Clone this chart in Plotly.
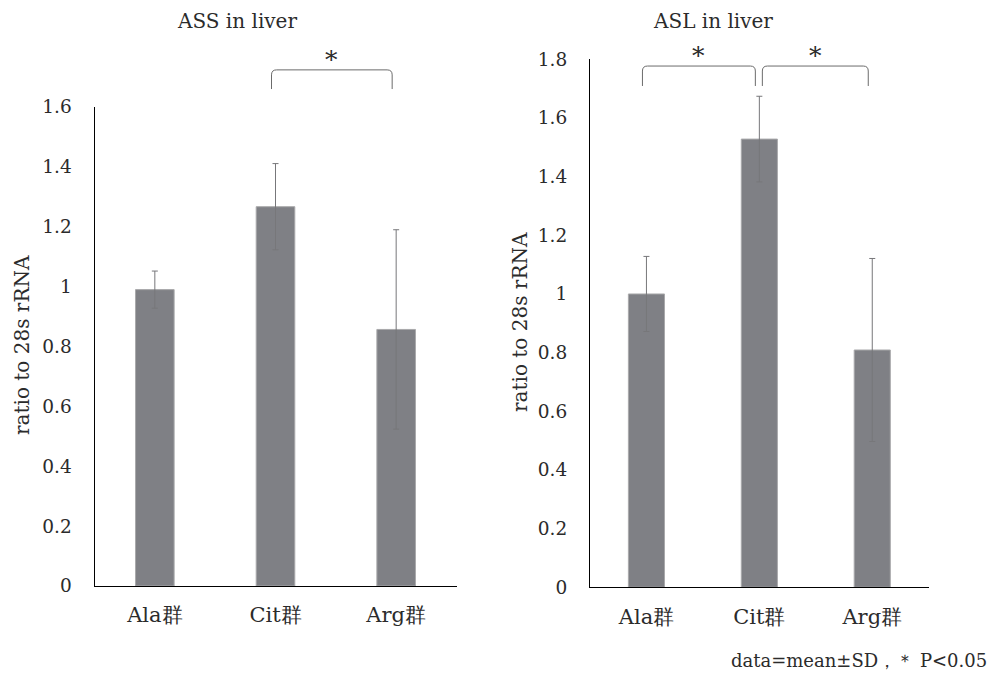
import plotly.graph_objects as go

# ---- data ----
categories = ["Ala群", "Cit群", "Arg群"]
ass_mean = [0.99, 1.267, 0.857]
ass_sd = [0.062, 0.144, 0.333]
asl_mean = [1.00, 1.528, 0.809]
asl_sd = [0.128, 0.146, 0.312]
ass_tickvals = [0, 0.2, 0.4, 0.6, 0.8, 1.0, 1.2, 1.4, 1.6]
ass_ticktext = ["0", "0.2", "0.4", "0.6", "0.8", "1", "1.2", "1.4", "1.6"]
asl_tickvals = [0, 0.2, 0.4, 0.6, 0.8, 1.0, 1.2, 1.4, 1.6, 1.8]
asl_ticktext = ["0", "0.2", "0.4", "0.6", "0.8", "1", "1.2", "1.4", "1.6", "1.8"]
ass_sig_pairs = [(1, 2)]
asl_sig_pairs = [(0, 1), (1, 2)]
ass_bracket = (1.66, 1.724)   # leg bottom, bracket top (data units)
asl_bracket = (1.709, 1.777)
titles = ["ASS in liver", "ASL in liver"]
ytitle = "ratio to 28s rRNA"
footer = "data=mean±SD，＊ P<0.05"

FONT = "DejaVu Serif"
TXT = "#2b2b2b"
BAR = "#7f8085"
W, H = 996, 675

# pixel geometry of the two plot areas
left_px = dict(x0=94.5, x1=456.5, y0=586.0, y1=107.0)
right_px = dict(x0=590.0, x1=928.7, y0=587.3, y1=59.3)


def dom(p):
    return [p["x0"] / W, p["x1"] / W], [1 - p["y0"] / H, 1 - p["y1"] / H]


fig = go.Figure()

panels = [
    dict(mean=ass_mean, sd=ass_sd, xa="x", ya="y", px=left_px, rng=[0, 1.6],
         tv=ass_tickvals, tt=ass_ticktext, pairs=ass_sig_pairs, br=ass_bracket,
         title=titles[0], title_x=237, ytitle_x=22, ytitle_y=345),
    dict(mean=asl_mean, sd=asl_sd, xa="x2", ya="y2", px=right_px, rng=[0, 1.8],
         tv=asl_tickvals, tt=asl_ticktext, pairs=asl_sig_pairs, br=asl_bracket,
         title=titles[1], title_x=713, ytitle_x=520, ytitle_y=322),
]

shapes = []
annotations = []
for i, p in enumerate(panels):
    fig.add_trace(go.Bar(
        x=categories, y=p["mean"], xaxis=p["xa"], yaxis=p["ya"],
        width=0.32,
        marker=dict(color=BAR, line=dict(color="#a9a9ab", width=1)),
        error_y=dict(type="data", array=p["sd"], visible=True,
                     color="#77777a", thickness=1, width=3),
        showlegend=False,
    ))
    xd, yd = dom(p["px"])
    suffix = "" if i == 0 else "2"
    fig.update_layout(**{
        f"xaxis{suffix}": dict(
            domain=xd, anchor=f"y{suffix}", showline=True, linecolor="black",
            linewidth=1.2, ticks="", showgrid=False, zeroline=False,
            tickfont=dict(family=FONT, size=21, color=TXT),
            ticklabelstandoff=10, automargin=False,
            range=[-0.5, 2.5],
        ),
        f"yaxis{suffix}": dict(
            domain=yd, anchor=f"x{suffix}", showline=True, linecolor="black",
            linewidth=1.2, ticks="", showgrid=False, zeroline=False,
            range=p["rng"], tickvals=p["tv"], ticktext=p["tt"],
            tickfont=dict(family=FONT, size=18.5, color=TXT),
            ticklabelstandoff=18, automargin=False,
        ),
    })
    xref = f"x{suffix} domain"
    yref = f"y{suffix} domain"
    axw = p["px"]["x1"] - p["px"]["x0"]
    axh = p["px"]["y0"] - p["px"]["y1"]
    rx = 5 / axw
    ry = 5 / axh
    ymax = p["rng"][1]
    yb = p["br"][0] / ymax
    yt = p["br"][1] / ymax
    for (a, b) in p["pairs"]:
        xa0 = (a + 0.5) / 3 - 4 / axw
        xb0 = (b + 0.5) / 3 - 4 / axw
        if i == 1 and a == 1:
            xa0 = (a + 0.5) / 3 + 3 / axw
        path = (f"M {xa0},{yb} L {xa0},{yt - ry} Q {xa0},{yt} {xa0 + rx},{yt} "
                f"L {xb0 - rx},{yt} Q {xb0},{yt} {xb0},{yt - ry} L {xb0},{yb}")
        shapes.append(dict(type="path", path=path, xref=xref, yref=yref,
                           line=dict(color="#6b6b6b", width=1)))
        annotations.append(dict(
            text="*", x=(xa0 + xb0) / 2, y=yt, xref=xref, yref=yref,
            xanchor="center", yanchor="bottom", showarrow=False, yshift=-6,
            font=dict(family=FONT, size=25, color=TXT)))
    annotations.append(dict(
        text=p["title"], x=p["title_x"] / W, y=1 - 21 / H, xref="paper",
        yref="paper", xanchor="center", yanchor="middle", showarrow=False,
        font=dict(family=FONT, size=20, color=TXT)))
    annotations.append(dict(
        text=ytitle, x=p["ytitle_x"] / W, y=1 - p["ytitle_y"] / H,
        xref="paper", yref="paper", xanchor="center", yanchor="middle",
        textangle=-90, showarrow=False,
        font=dict(family=FONT, size=20, color=TXT)))

annotations.append(dict(
    text=footer, x=989 / W, y=1 - 660 / H, xref="paper", yref="paper",
    xanchor="right", yanchor="middle", showarrow=False,
    font=dict(family=FONT, size=18, color=TXT)))

fig.update_layout(
    width=W, height=H, margin=dict(l=0, r=0, t=0, b=0),
    paper_bgcolor="white", plot_bgcolor="white",
    shapes=shapes, annotations=annotations, bargap=0.68,
)

fig.write_html("out.html")
